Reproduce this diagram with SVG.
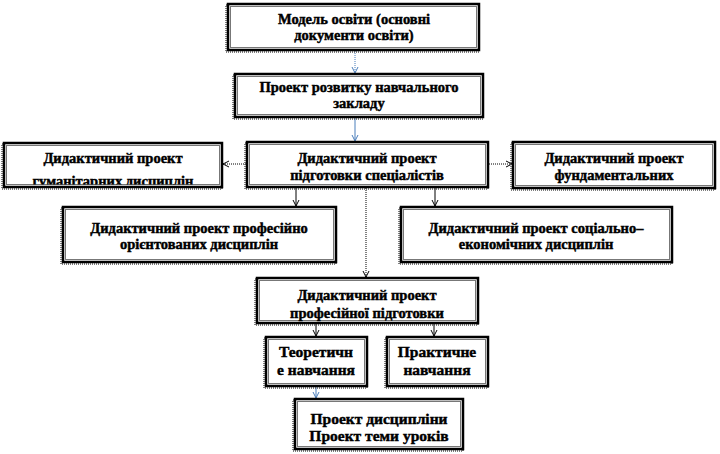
<svg xmlns="http://www.w3.org/2000/svg" width="720" height="454" viewBox="0 0 720 454">
<style>
.box{fill:#fff;stroke:#000;stroke-width:2.5}
.inner{fill:none;stroke:#777;stroke-width:1}
.sh{fill:none;stroke:#555;stroke-width:1.5;stroke-dasharray:1 1}
.t{font-weight:700;font-size:14.5px;fill:#000;stroke:#000;stroke-width:0.45;text-anchor:middle}
.big{font-size:15.5px}
.c{fill:none;stroke-width:1}
.blk{stroke:#000}
.blu{stroke:#4a7ebb}
.dot{stroke-dasharray:1 1}
</style>
<defs>
<marker id="ab" viewBox="0 0 8 8" refX="7" refY="4" markerWidth="8" markerHeight="8" markerUnits="userSpaceOnUse" orient="auto">
<path d="M1,1 L7,4 L1,7" fill="none" stroke="#000" stroke-width="1"/>
</marker>
<marker id="ablu" viewBox="0 0 8 8" refX="7" refY="4" markerWidth="8" markerHeight="8" markerUnits="userSpaceOnUse" orient="auto">
<path d="M1,1 L7,4 L1,7" fill="none" stroke="#4a7ebb" stroke-width="1"/>
</marker>
<clipPath id="clip3"><rect x="4" y="143" width="218" height="41.5"/></clipPath>
</defs>

<g id="connectors">
<line class="c blu dot" x1="355" y1="51" x2="355" y2="73" marker-end="url(#ablu)"/>
<line class="c blu" x1="355" y1="118" x2="355" y2="141" marker-end="url(#ablu)"/>
<line class="c blk dot" x1="246" y1="164" x2="223" y2="164" marker-end="url(#ab)"/>
<line class="c blk dot" x1="489" y1="164" x2="512" y2="164" marker-end="url(#ab)"/>
<line class="c blk" x1="296" y1="188" x2="296" y2="206" marker-end="url(#ab)"/>
<line class="c blk" x1="435" y1="188" x2="435" y2="206" marker-end="url(#ab)"/>
<line class="c blk dot" x1="366" y1="188" x2="366" y2="277" marker-end="url(#ab)"/>
<line class="c blk" x1="316" y1="324" x2="316" y2="336" marker-end="url(#ab)"/>
<line class="c blk" x1="434" y1="324" x2="434" y2="336" marker-end="url(#ab)"/>
<line class="c blu" x1="316" y1="387" x2="316" y2="398" marker-end="url(#ablu)"/>
</g>

<g font-family="Liberation Serif, Times New Roman, serif">
<g id="n1">
<rect class="sh" x="226" y="5" width="253" height="47"/>
<rect class="box" x="228" y="4" width="251" height="46"/>
<rect class="inner" x="230.5" y="6.5" width="246" height="41"/>
<text class="t" x="354" y="24">Модель освіти (основні</text>
<text class="t" x="354" y="40">документи освіти)</text>
</g>

<g id="n2">
<rect class="sh" x="233" y="75" width="250" height="44"/>
<rect class="box" x="235" y="74" width="248" height="43"/>
<rect class="inner" x="237.5" y="76.5" width="243" height="38"/>
<text class="t" x="359" y="92">Проект розвитку навчального</text>
<text class="t" x="359" y="108">закладу</text>
</g>

<g id="n3">
<rect class="sh" x="2" y="144" width="220" height="45"/>
<rect class="box" x="4" y="143" width="218" height="44"/>
<rect class="inner" x="6.5" y="145.5" width="213" height="39"/>
<text class="t" x="113" y="163">Дидактичний проект</text>
<text class="t" x="113" y="186" clip-path="url(#clip3)">гуманітарних  дисциплін</text>
</g>

<g id="n4">
<rect class="sh" x="245" y="143" width="243" height="46"/>
<rect class="box" x="247" y="142" width="241" height="45"/>
<rect class="inner" x="249.5" y="144.5" width="236" height="40"/>
<text class="t" x="367" y="163">Дидактичний проект</text>
<text class="t" x="367" y="180">підготовки  спеціалістів</text>
</g>

<g id="n5">
<rect class="sh" x="511" y="143" width="204" height="47"/>
<rect class="box" x="513" y="142" width="202" height="46"/>
<rect class="inner" x="515.5" y="144.5" width="197" height="41"/>
<text class="t" x="614" y="163">Дидактичний проект</text>
<text class="t" x="614" y="180">фундаментальних</text>
</g>

<g id="n6">
<rect class="sh" x="61" y="208" width="275" height="56"/>
<rect class="box" x="63" y="207" width="273" height="55"/>
<rect class="inner" x="65.5" y="209.5" width="268" height="50"/>
<text class="t" x="199" y="233">Дидактичний проект професійно</text>
<text class="t" x="199" y="249">орієнтованих  дисциплін</text>
</g>

<g id="n7">
<rect class="sh" x="399" y="208" width="273" height="56"/>
<rect class="box" x="401" y="207" width="271" height="55"/>
<rect class="inner" x="403.5" y="209.5" width="266" height="50"/>
<text class="t" x="536" y="233">Дидактичний проект соціально–</text>
<text class="t" x="536" y="249">економічних  дисциплін</text>
</g>

<g id="n8">
<rect class="sh" x="255" y="279" width="223" height="46"/>
<rect class="box" x="257" y="278" width="221" height="45"/>
<rect class="inner" x="259.5" y="280.5" width="216" height="40"/>
<text class="t" x="367" y="300">Дидактичний проект</text>
<text class="t" x="367" y="318">професійної  підготовки</text>
</g>

<g id="n9">
<rect class="sh" x="264" y="338" width="103" height="50"/>
<rect class="box" x="266" y="337" width="101" height="49"/>
<rect class="inner" x="268.5" y="339.5" width="96" height="44"/>
<text class="t big" x="316" y="357">Теоретичн</text>
<text class="t big" x="316" y="375">е навчання</text>
</g>

<g id="n10">
<rect class="sh" x="385" y="338" width="103" height="50"/>
<rect class="box" x="387" y="337" width="101" height="49"/>
<rect class="inner" x="389.5" y="339.5" width="96" height="44"/>
<text class="t big" x="437" y="357">Практичне</text>
<text class="t big" x="437" y="375">навчання</text>
</g>

<g id="n11">
<rect class="sh" x="293" y="400" width="170" height="51"/>
<rect class="box" x="295" y="399" width="168" height="50"/>
<rect class="inner" x="297.5" y="401.5" width="163" height="45"/>
<text class="t big" x="379" y="424">Проект дисципліни</text>
<text class="t big" x="379" y="441">Проект теми уроків</text>
</g>
</g>
</svg>
